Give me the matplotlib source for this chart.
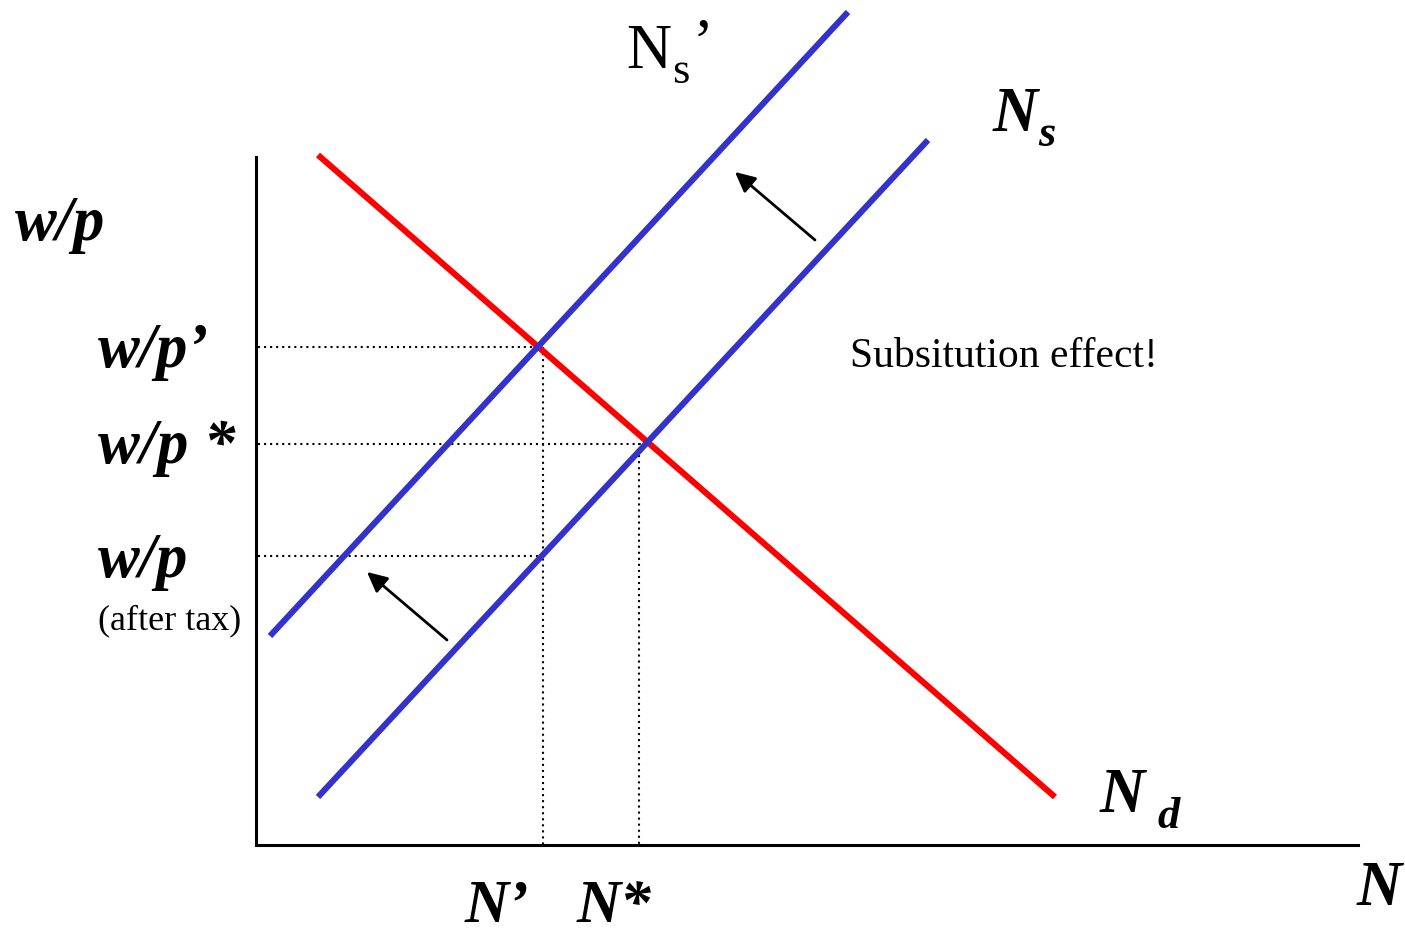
import matplotlib
matplotlib.use("Agg")
import matplotlib.pyplot as plt

# Diagram geometry (pixel-like diagram units, y grows downward)
axis_x = [256, 256, 1358]
axis_y = [157, 845, 845]
nd_x = [318, 1055]
nd_y = [155, 797]
ns_x = [318, 928]
ns_y = [797, 140]
ns2_x = [270, 848]
ns2_y = [636, 12]
# dotted guides
h_guides_y = [347, 444, 556]
h_guides_xend = [540, 648, 543]
v_guides_x = [543, 639]
v_guides_ytop = [347, 443]
# arrows (start, end)
arrows = [((815, 240), (735, 172)), ((447, 640), (367, 572))]

plt.rcParams['font.family'] = ['Liberation Serif', 'DejaVu Serif']
fig = plt.figure(figsize=(14.05, 9.36), dpi=100)
ax = fig.add_axes([0, 0, 1, 1])
ax.set_xlim(0, 1405)
ax.set_ylim(936, 0)
ax.axis('off')

ax.plot(axis_x, axis_y, color='black', lw=2.2, solid_joinstyle='miter')
for y, xe in zip(h_guides_y, h_guides_xend):
    ax.plot([258, xe], [y, y], color='black', lw=1.5, ls=(0, (1, 1.9)))
for x, yt in zip(v_guides_x, v_guides_ytop):
    ax.plot([x, x], [yt, 845], color='black', lw=1.5, ls=(0, (1, 1.9)))

ax.plot(nd_x, nd_y, color='#FF0000', lw=4.4, solid_capstyle='butt')
ax.plot(ns_x, ns_y, color='#3333CC', lw=4.4, solid_capstyle='butt')
ax.plot(ns2_x, ns2_y, color='#3333CC', lw=4.4, solid_capstyle='butt')

for (x0, y0), (x1, y1) in arrows:
    ax.annotate('', xy=(x1, y1), xytext=(x0, y0),
                arrowprops=dict(arrowstyle='-|>,head_length=0.55,head_width=0.27',
                                color='black', lw=2.0,
                                mutation_scale=22, shrinkA=0, shrinkB=0))

bi = dict(fontweight='bold', fontstyle='italic', color='black', va='baseline', ha='left')
big = 45
ax.text(15, 240, 'w/p', fontsize=big, **bi)
ax.text(98, 367, 'w/p\u2019', fontsize=big, **bi)
ax.text(98, 463, 'w/p *', fontsize=big, **bi)
ax.text(98, 577, 'w/p', fontsize=big, **bi)
ax.text(98, 629, '(after tax)', fontsize=26, va='baseline', ha='left')
ax.text(465, 922, 'N\u2019', fontsize=44, **bi)
ax.text(577, 922, 'N*', fontsize=44, **bi)
ax.text(1357, 905, 'N', fontsize=big, **bi)
ax.text(1100, 812, 'N', fontsize=big, **bi)
ax.text(1157, 828, 'd', fontsize=32, **bi)
ax.text(993, 131, 'N', fontsize=big, **bi)
ax.text(1038, 146, 's', fontsize=32, **bi)
ax.text(626, 68, 'N', fontsize=big, va='baseline', ha='left')
ax.text(672, 83, 's', fontsize=32, va='baseline', ha='left')
ax.text(692, 62, '\u2019', fontsize=big, va='baseline', ha='left')
ax.text(850, 367, 'Subsitution effect!', fontsize=30, va='baseline', ha='left')

fig.savefig('out.png', dpi=100)
